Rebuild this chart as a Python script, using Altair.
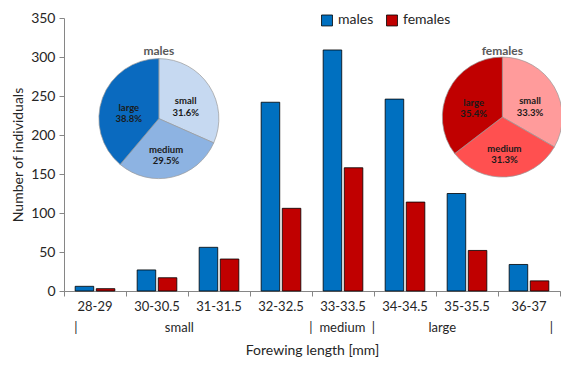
import altair as alt
import pandas as pd

# ---------------- data ----------------
categories = ["28-29", "30-30.5", "31-31.5", "32-32.5", "33-33.5", "34-34.5", "35-35.5", "36-37"]
males = [6, 27, 56, 242, 309, 246, 125, 34]
females = [3, 17, 41, 106, 158, 114, 52, 13]
sexes = ["males", "females"]

pie_classes = ["small", "medium", "large"]
males_pct = [31.6, 29.5, 38.8]
females_pct = [33.3, 31.3, 35.4]

# size-class annotation row under the axis (anchors in category units)
class_text = ["|", "small", "|", "medium", "|", "large", "|"]
class_anchor = [0.19, 1.86, 3.98, 4.49, 4.99, 6.10, 7.86]
class_row_y = -47

# inset pie anchors (category units, count units)
pie_anchor = {"males": (1.53, 221), "females": (7.07, 223)}
pie_title_y = 308

FONT = "Lato"

bars_df = pd.DataFrame(
    [{"cat": c, "sex": "males", "n": v} for c, v in zip(categories, males)]
    + [{"cat": c, "sex": "females", "n": v} for c, v in zip(categories, females)]
)
ann_df = pd.DataFrame({"pos": class_anchor, "txt": class_text, "n": [class_row_y] * len(class_text)})

y_scale = alt.Scale(domain=[0, 350], nice=False, zero=True)
y_axis = alt.Axis(
    values=list(range(0, 351, 50)), title="Number of individuals", grid=False,
    labelFont=FONT, labelFontSize=14, labelColor="#262626", labelPadding=4,
    labelOverlap=False,
    titleFont=FONT, titleFontSize=14, titleFontWeight="normal", titleColor="#262626",
    titlePadding=5, tickSize=5, domainColor="#868686", tickColor="#868686",
)

bars = alt.Chart(bars_df).mark_bar(stroke="black", strokeWidth=0.8).encode(
    x=alt.X(
        "cat:N", sort=categories,
        scale=alt.Scale(paddingInner=0.36, paddingOuter=0.18),
        axis=alt.Axis(
            title="Forewing length [mm]", labelAngle=0, ticks=False, orient="bottom",
            labelFont=FONT, labelFontSize=13, labelColor="#262626", labelPadding=9,
            titleFont=FONT, titleFontSize=14, titleFontWeight="normal", titleColor="#262626",
            titlePadding=30, domainColor="#868686",
        ),
    ),
    xOffset=alt.XOffset("sex:N", sort=sexes, scale=alt.Scale(paddingInner=0.12)),
    y=alt.Y("n:Q", scale=y_scale, axis=y_axis, title="Number of individuals"),
    color=alt.Color(
        "sex:N", sort=sexes,
        scale=alt.Scale(domain=sexes, range=["#0070C0", "#C00000"]),
        legend=alt.Legend(
            title=None, orient="none", legendX=256, legendY=-5, direction="horizontal",
            symbolType="square", symbolSize=120, symbolStrokeColor="black",
            symbolStrokeWidth=0.8, labelFont=FONT, labelFontSize=14, labelColor="#262626",
            columnPadding=10, labelOffset=4, padding=0,
        ),
    ),
)

xq_scale = alt.Scale(domain=[0, 8], nice=False, zero=False)

annot = alt.Chart(ann_df).mark_text(font=FONT, fontSize=13, color="#262626").encode(
    x=alt.X(
        "pos:Q", scale=xq_scale,
        axis=alt.Axis(
            orient="bottom", values=list(range(0, 9)), labels=False, title=None, grid=False,
            tickSize=5, tickColor="#868686", domainColor="#868686",
        ),
    ),
    y=alt.Y("n:Q", scale=y_scale, axis=y_axis, title="Number of individuals"),
    text="txt:N",
)


def pie(name, pcts, colors):
    cx, cy = pie_anchor[name]
    df = pd.DataFrame({
        "cls": pie_classes,
        "pct": pcts,
        "idx": list(range(len(pie_classes))),
        "label": [f"{c}\n{p:.1f}%" for c, p in zip(pie_classes, pcts)],
        "key": [f"{name}-{c}" for c in pie_classes],
    })
    base = alt.Chart(df).encode(
        x=alt.X(datum=cx, type="quantitative", scale=xq_scale, axis=None),
        y=alt.Y(datum=cy, type="quantitative", scale=y_scale, axis=y_axis, title="Number of individuals"),
        theta=alt.Theta("pct:Q", stack="normalize"),
        order=alt.Order("idx:Q", sort="ascending"),
    )
    arc = base.mark_arc(radius=60, stroke="#9a9a9a", strokeWidth=0.7).encode(
        color=alt.Color("key:N", scale=alt.Scale(domain=df["key"].tolist(), range=colors), legend=None)
    )
    txt = base.mark_text(radius=32, font=FONT, fontSize=9.5, fontWeight="bold",
                         color="#1a1a1a", lineBreak="\n").encode(text="label:N")
    title = alt.Chart(pd.DataFrame({"t": [name]})).mark_text(
        font=FONT, fontSize=12, fontWeight="bold", color="#595959"
    ).encode(
        x=alt.X(datum=cx, type="quantitative", scale=xq_scale, axis=None),
        y=alt.Y(datum=pie_title_y, type="quantitative", scale=y_scale, axis=y_axis,
                title="Number of individuals"),
        text="t:N",
    )
    return [arc, txt, title]


layers = [bars, annot]
layers += pie("males", males_pct, ["#C6D9F1", "#8DB3E2", "#0A6ABF"])
layers += pie("females", females_pct, ["#FF9B9B", "#FF5050", "#C00000"])

chart = alt.layer(*layers).resolve_scale(
    x="independent", color="independent", theta="independent"
).properties(
    width=553, height=349,
    autosize=alt.AutoSizeParams(type="fit", contains="padding"),
    padding={"left": 3, "top": 3, "right": 0, "bottom": 0},
    background="white",
).configure_view(stroke=None)

chart.save("out.html", embed_options={"renderer": "svg", "actions": False})
